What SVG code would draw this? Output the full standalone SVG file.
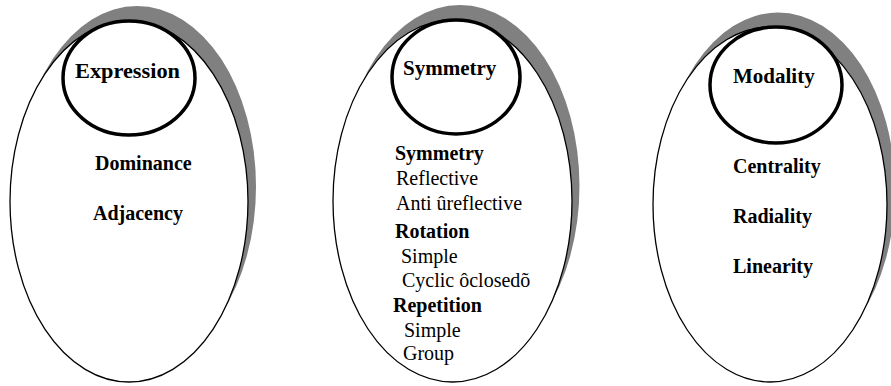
<svg xmlns="http://www.w3.org/2000/svg" width="891" height="386" viewBox="0 0 891 386">
  <style>
    .shadow { fill: #808080; stroke: none; }
    .outer { fill: #ffffff; stroke: #000000; stroke-width: 1.3; }
    .head { fill: #ffffff; stroke: #000000; stroke-width: 3.5; }
    text { font-family: "Liberation Serif", "Times New Roman", serif; font-size: 20px; fill: #000000; }
    .b { font-weight: bold; }
    .t { font-size: 21px; font-weight: bold; }
  </style>
  <rect width="891" height="386" fill="#ffffff"/>

  <!-- Expression group -->
  <g id="expression">
    <ellipse class="shadow" cx="137" cy="186.5" rx="119" ry="180.5"/>
    <ellipse class="outer" cx="129" cy="201.5" rx="119" ry="180.5"/>
    <ellipse class="head" cx="129" cy="78" rx="66" ry="57"/>
    <text class="t" x="75" y="78" textLength="105" lengthAdjust="spacingAndGlyphs">Expression</text>
    <text class="b" x="95" y="170">Dominance</text>
    <text class="b" x="93" y="220">Adjacency</text>
  </g>

  <!-- Symmetry group -->
  <g id="symmetry">
    <ellipse class="shadow" cx="460" cy="186" rx="119.5" ry="181"/>
    <ellipse class="outer" cx="452.5" cy="201" rx="119.5" ry="181"/>
    <ellipse class="head" cx="456" cy="77" rx="64" ry="57"/>
    <text class="t" x="403" y="75">Symmetry</text>
    <text class="b" x="395" y="160">Symmetry</text>
    <text x="396" y="185">Reflective</text>
    <text x="396" y="210">Anti ûreflective</text>
    <text class="b" x="395" y="238">Rotation</text>
    <text x="401" y="263">Simple</text>
    <text x="402" y="287">Cyclic ôclosedõ</text>
    <text class="b" x="393" y="312">Repetition</text>
    <text x="404" y="337">Simple</text>
    <text x="403" y="360">Group</text>
  </g>

  <!-- Modality group -->
  <g id="modality">
    <ellipse class="shadow" cx="778" cy="190" rx="117" ry="177.5"/>
    <ellipse class="outer" cx="770" cy="204.5" rx="117" ry="177.5"/>
    <ellipse class="head" cx="776" cy="85" rx="66" ry="58"/>
    <text class="t" x="733" y="83">Modality</text>
    <text class="b" x="733" y="173">Centrality</text>
    <text class="b" x="733" y="223">Radiality</text>
    <text class="b" x="733" y="273">Linearity</text>
  </g>

  <!-- no connectors in this diagram -->
  <g id="connectors"/>
</svg>
